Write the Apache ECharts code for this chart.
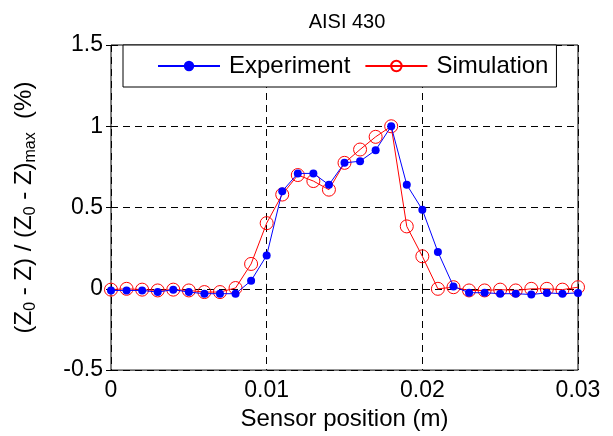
<!DOCTYPE html>
<html>
<head>
<meta charset="utf-8">
<script src="https://cdn.jsdelivr.net/npm/echarts@6/dist/echarts.min.js"></script>
<style>
  html, body { margin: 0; padding: 0; background: #fff; }
  #main { width: 613px; height: 436px; }
</style>
</head>
<body>
<div id="main"></div>
<script>
// sensor positions (m)
const positions = [0, 0.001, 0.002, 0.003, 0.004, 0.005, 0.006, 0.007, 0.008, 0.009,
  0.010, 0.011, 0.012, 0.013, 0.014, 0.015, 0.016, 0.017, 0.018, 0.019,
  0.020, 0.021, 0.022, 0.023, 0.024, 0.025, 0.026, 0.027, 0.028, 0.029, 0.030];

const experiment = [-0.01, -0.01, -0.01, -0.02, -0.005, -0.02, -0.03, -0.03, -0.03, 0.05,
  0.205, 0.60, 0.71, 0.71, 0.64, 0.775, 0.785, 0.853, 1.0, 0.64,
  0.487, 0.227, 0.015, -0.024, -0.024, -0.03, -0.03, -0.035, -0.025, -0.03, -0.025];

const simulation = [-0.005, 0, -0.005, -0.01, -0.005, -0.01, -0.02, -0.02, 0.005, 0.153,
  0.404, 0.58, 0.70, 0.663, 0.61, 0.775, 0.857, 0.935, 1.0, 0.384,
  0.20, 0.0, 0.01, -0.01, -0.01, -0.005, -0.01, 0.0, 0.0, -0.005, 0.01];

const xTicks = [0, 0.01, 0.02, 0.03];
const yTicks = [-0.5, 0, 0.5, 1, 1.5];

const chart = echarts.init(document.getElementById('main'));
const font = 'Liberation Sans, Arial, sans-serif';
const dashed = { show: true, lineStyle: { color: '#000', type: [7, 5], width: 1 } };
const tick = { show: true, inside: true, length: 5, lineStyle: { color: '#000' } };

const option = {
  animation: false,
  title: {
    text: 'AISI 430',
    left: 342, top: 7, textAlign: 'center',
    textStyle: { fontFamily: font, fontSize: 20, fontWeight: 'normal', color: '#000' }
  },
  grid: { left: 111, right: 35, top: 45, bottom: 65, show: true, borderColor: '#000', borderWidth: 1 },
  legend: {
    left: 123, top: 45,
    backgroundColor: '#fff',
    borderColor: '#000', borderWidth: 1,
    padding: [9, 8, 9, 34],
    itemWidth: 62, itemHeight: 13, itemGap: 14,
    textStyle: { fontFamily: font, fontSize: 24, color: '#000', padding: [0, 0, 0, 4] },
    data: ['Experiment', 'Simulation']
  },
  xAxis: [{
    type: 'value', min: 0, max: 0.03, interval: 0.01,
    name: 'Sensor position (m)', nameLocation: 'middle', nameGap: 36,
    nameTextStyle: { fontFamily: font, fontSize: 24, color: '#000' },
    axisLine: { show: false },
    axisTick: tick,
    axisLabel: { fontFamily: font, fontSize: 23, color: '#000', margin: 9,
      formatter: v => String(xTicks.find(t => Math.abs(t - v) < 1e-9) ?? v) },
    splitLine: dashed
  }, {
    type: 'value', position: 'top', min: 0, max: 0.03, interval: 0.01,
    axisLine: { show: false }, axisLabel: { show: false }, splitLine: { show: false },
    axisTick: tick
  }],
  yAxis: [{
    type: 'value', min: -0.5, max: 1.5, interval: 0.5,
    name: '(Z{sub|0} - Z) / (Z{sub|0} - Z){sub|max}  (%)',
    nameLocation: 'middle', nameGap: 72,
    nameTextStyle: {
      fontFamily: font, fontSize: 24, color: '#000',
      rich: {
        sub: { fontFamily: font, fontSize: 16, color: '#000', padding: [14, 0, 0, 0] }
      }
    },
    axisLine: { show: false },
    axisTick: tick,
    axisLabel: { fontFamily: font, fontSize: 23, color: '#000', margin: 8,
      formatter: v => String(yTicks.find(t => Math.abs(t - v) < 1e-9) ?? v) },
    splitLine: dashed
  }, {
    type: 'value', position: 'right', min: -0.5, max: 1.5, interval: 0.5,
    axisLine: { show: false }, axisLabel: { show: false }, splitLine: { show: false },
    axisTick: tick
  }],
  series: [{
    name: 'Experiment', type: 'line', z: 3,
    data: positions.map((x, i) => [x, experiment[i]]),
    symbol: 'circle', symbolSize: 8,
    itemStyle: { color: '#0000ff' },
    lineStyle: { color: '#0000ff', width: 1 }
  }, {
    name: 'Simulation', type: 'line', z: 2,
    data: positions.map((x, i) => [x, simulation[i]]),
    symbol: 'circle', symbolSize: 13,
    itemStyle: { color: 'rgba(0,0,0,0)', borderColor: '#ff0000', borderWidth: 1 },
    lineStyle: { color: '#ff0000', width: 1 }
  }]
};

chart.setOption(option);
</script>
</body>
</html>
